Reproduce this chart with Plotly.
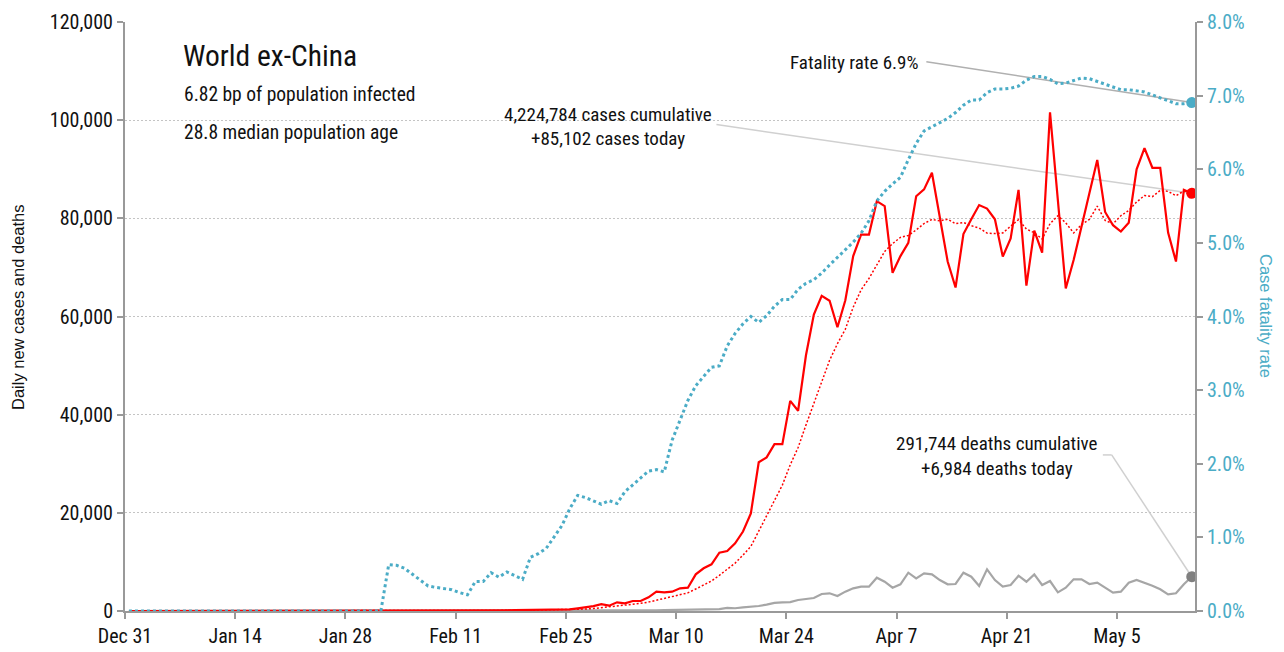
import pandas as pd
import plotly.graph_objects as go

# ---------------- data ----------------
start_date = "2019-12-31 12:00"
n_days = 136
dates = pd.date_range(start_date, periods=n_days, freq="D")

daily_cases = [
    0, 0, 0, 0, 0, 0, 0, 0, 0, 0, 0, 0, 0, 1, 0, 1, 1, 0, 0, 1,
    3, 5, 4, 8, 10, 14, 13, 17, 16, 20,
    25, 22, 26, 30, 25, 24, 28, 20, 30, 26,
    40, 60, 45, 70, 80, 90, 110, 120, 150, 180,
    210, 220, 240, 260, 300, 330, 350, 550, 750, 1000,
    1400, 1080, 1770, 1570, 2040, 2040, 2790, 3940, 3810, 3940,
    4620, 4750, 7470, 8700, 9510, 11880, 12220, 13790, 16200, 19900,
    30300, 31300, 34000, 34000, 42800, 40800, 52100, 60400, 64200, 63200,
    57800, 63300, 72300, 76700, 76700, 83500, 82500, 68900, 72300, 75000,
    84500, 85900, 89300, 80500, 71200, 65900, 76800, 79800, 82700, 82000,
    79800, 72200, 75900, 85800, 66300, 77500, 73000, 101600, 83600, 65700,
    71500, 78000, 85100, 91900, 81300, 78600, 77300, 79100, 90000, 94300,
    90300, 90300, 77100, 71200, 85800, 85102,
]

daily_deaths = [0] * 33 + [
    1, 0, 0, 1, 0, 1, 1, 2, 1, 2, 3, 3, 2, 5, 6, 8, 10,
    10, 12, 14, 16, 18, 20, 25, 30, 35, 40,
    50, 60, 70, 80, 100, 110, 130, 150, 180, 200, 230, 260, 280, 300, 330,
    400, 650, 560, 750, 850,
    1020, 1300, 1650, 1770, 1800, 2240, 2450, 2650,
    3460, 3600, 3050, 3940, 4620, 4960, 4960, 6790, 5970, 4750, 5440, 7800,
    6660, 7680, 7470, 6310, 5440, 5500, 7800, 6990, 5090, 8490,
    6310, 4960, 5300, 7190, 5970, 7470, 5300, 6110, 3800, 4750,
    6450, 6450, 5500, 5770, 4750, 3730, 3940, 5770, 6310, 5770,
    5160, 4420, 3400, 3600, 5440, 6984,
]

fatality_rate_pct = [0.0] * 33 + [
    0.63, 0.62, 0.58, 0.50, 0.43, 0.34, 0.32, 0.31, 0.29, 0.25, 0.22, 0.40, 0.40, 0.52, 0.46, 0.53, 0.48, 0.43,
    0.73, 0.78, 0.85, 1.00, 1.16, 1.39, 1.57, 1.54, 1.50, 1.45, 1.50, 1.46, 1.62, 1.71, 1.80, 1.90, 1.92, 1.89,
    2.32, 2.58, 2.86, 3.06, 3.19, 3.31, 3.33, 3.60, 3.77, 3.90, 4.00, 3.92, 4.01, 4.14, 4.23, 4.23, 4.37, 4.45,
    4.50, 4.59, 4.70, 4.80, 4.91, 5.01, 5.13, 5.30, 5.57, 5.70, 5.80, 5.89, 6.13, 6.35, 6.52, 6.58, 6.63, 6.69,
    6.77, 6.87, 6.94, 6.94, 7.04, 7.09, 7.09, 7.10, 7.13, 7.21, 7.26, 7.26, 7.22, 7.16, 7.17, 7.21, 7.24, 7.23,
    7.19, 7.15, 7.11, 7.08, 7.08, 7.07, 7.05, 7.01, 6.97, 6.92, 6.89, 6.89, 6.906,
]

tick_dates = pd.date_range("2019-12-31", periods=10, freq="14D")
tick_labels = ["Dec 31", "Jan 14", "Jan 28", "Feb 11", "Feb 25",
               "Mar 10", "Mar 24", "Apr 7", "Apr 21", "May 5"]

title_text = "World ex-China"
subtitle_lines = ["6.82 bp of population infected", "28.8 median population age"]
cases_note = ["4,224,784 cases cumulative", "+85,102 cases today"]
deaths_note = ["291,744 deaths cumulative", "+6,984 deaths today"]
rate_note = "Fatality rate 6.9%"

assert len(daily_cases) == n_days and len(daily_deaths) == n_days and len(fatality_rate_pct) == n_days

cases_avg = pd.Series(daily_cases).rolling(7, min_periods=1).mean().tolist()
rate_frac = [v / 100 for v in fatality_rate_pct]

# ---------------- style ----------------
NARROW = "Liberation Sans Narrow, Roboto Condensed, Arial Narrow, DejaVu Sans Condensed, sans-serif"
SANS = "Liberation Sans, Arial, sans-serif"
RED = "#ff0000"
TEAL = "#4bacc6"
GREY = "#a6a6a6"
AXIS = "#999999"

W, H = 1284, 652
L, R, T, B = 125, 89, 22, 41


def px(x):
    return (x - L) / (W - L - R)


def py(y):
    return (H - B - y) / (H - T - B)


fig = go.Figure()

fig.add_trace(go.Scatter(x=dates, y=daily_deaths, mode="lines",
                         line=dict(color=GREY, width=2.2), hoverinfo="skip"))
fig.add_trace(go.Scatter(x=dates, y=cases_avg, mode="lines",
                         line=dict(color=RED, width=1.5, dash="2px,2px"), hoverinfo="skip"))
fig.add_trace(go.Scatter(x=dates, y=daily_cases, mode="lines",
                         line=dict(color=RED, width=2.2), hoverinfo="skip"))
fig.add_trace(go.Scatter(x=[dates[-1]], y=[daily_deaths[-1]], mode="markers",
                         marker=dict(color="#808080", size=11), hoverinfo="skip"))
fig.add_trace(go.Scatter(x=[dates[-1]], y=[daily_cases[-1]], mode="markers",
                         marker=dict(color=RED, size=11), hoverinfo="skip"))
fig.add_trace(go.Scatter(x=dates, y=rate_frac, mode="lines", yaxis="y2",
                         line=dict(color=TEAL, width=3, dash="3px,3px"), hoverinfo="skip"))
fig.add_trace(go.Scatter(x=[dates[-1]], y=[rate_frac[-1]], mode="markers", yaxis="y2",
                         marker=dict(color=TEAL, size=11), hoverinfo="skip"))

# leader lines (text side given in data units, point side from the data)
shapes = [
    dict(type="line", xref="x", yref="y2", x0="2020-04-10 19:00", y0=0.0746,
         x1=dates[-1], y1=rate_frac[-1], line=dict(color="#b0b0b0", width=1.5), layer="below"),
    dict(type="line", xref="x", yref="y", x0="2020-03-15 03:00", y0=99100,
         x1=dates[-1], y1=daily_cases[-1], line=dict(color="#d0d0d0", width=1.5), layer="below"),
    dict(type="line", xref="x", yref="y", x0="2020-05-03 05:00", y0=31800,
         x1="2020-05-04 08:00", y1=31800, line=dict(color="#d0d0d0", width=1.5), layer="below"),
    dict(type="line", xref="x", yref="y", x0="2020-05-04 08:00", y0=31800,
         x1=dates[-1], y1=daily_deaths[-1], line=dict(color="#d0d0d0", width=1.5), layer="below"),
]

ann = []


def text(t, x, y, size, xanchor="left", color="#111111", family=NARROW, angle=0):
    ann.append(dict(text=t, x=px(x), y=py(y), xref="paper", yref="paper",
                    xanchor=xanchor, yanchor="middle", showarrow=False,
                    textangle=angle, font=dict(family=family, size=size, color=color)))


text(title_text, 181, 56, 29.5)
text(subtitle_lines[0], 182, 95, 19.5)
text(subtitle_lines[1], 182, 132, 19.5)
text(rate_note, 920, 63, 19, xanchor="right")
text(cases_note[0], 608, 114, 19, xanchor="center")
text(cases_note[1], 608, 138, 19, xanchor="center")
text(deaths_note[0], 997, 443, 19, xanchor="center")
text(deaths_note[1], 997, 468, 19, xanchor="center")
text("Daily new cases and deaths", 18, 308, 16.5, xanchor="center", family=SANS, angle=-90)
text("Case fatality rate", 1266, 316, 16.5, xanchor="center", family=SANS, color=TEAL, angle=90)

fig.update_layout(
    width=W, height=H,
    margin=dict(l=L, r=R, t=T, b=B, autoexpand=False),
    paper_bgcolor="white", plot_bgcolor="white",
    showlegend=False,
    shapes=shapes,
    annotations=ann,
    xaxis=dict(
        type="date", automargin=False,
        range=["2019-12-31", "2020-05-14 22:00"],
        tickvals=list(tick_dates), ticktext=tick_labels,
        ticks="outside", ticklen=6, tickwidth=2, tickcolor=AXIS,
        showline=True, linecolor=AXIS, linewidth=2,
        showgrid=False, zeroline=False,
        tickfont=dict(family=NARROW, size=20, color="#111111"),
    ),
    yaxis=dict(
        automargin=False,
        range=[0, 120000], dtick=20000, tickformat=",d",
        ticks="outside", ticklen=6, tickwidth=2, tickcolor=AXIS,
        showline=True, linecolor=AXIS, linewidth=2,
        showgrid=True, gridcolor="#c4c4c4", gridwidth=1, griddash="2px,2px",
        zeroline=False,
        tickfont=dict(family=NARROW, size=20, color="#111111"),
    ),
    yaxis2=dict(
        overlaying="y", side="right", automargin=False,
        range=[0, 0.08], dtick=0.01, tickformat=".1%",
        ticks="outside", ticklen=6, tickwidth=2, tickcolor=AXIS,
        showline=True, linecolor=AXIS, linewidth=2,
        showgrid=False, zeroline=False,
        tickfont=dict(family=NARROW, size=20, color=TEAL),
    ),
)

fig.write_html(
    "out.html",
    config={"displayModeBar": False},
    post_script="document.body.style.margin='0';document.body.style.padding='0';",
)
